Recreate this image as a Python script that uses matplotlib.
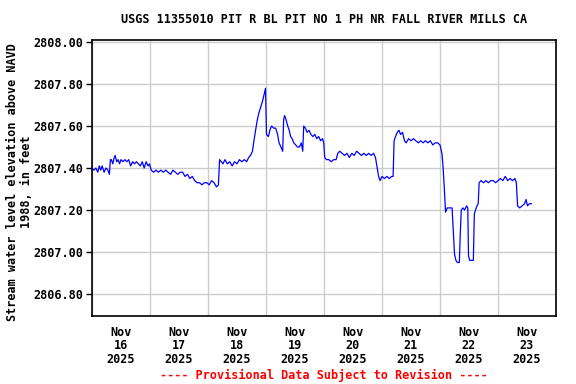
import matplotlib
matplotlib.use("Agg")
import matplotlib.pyplot as plt
import matplotlib.dates as mdates
import pandas as pd

# hours since 2025-11-16 00:00 and gage height (ft, NAVD 1988)
hours = [0, 0.8, 1.6, 2.4, 3.0, 3.6, 4.2, 5.0, 5.8, 6.6, 7.2,
         7.6, 8.0, 8.6, 9.2, 9.6, 10.2, 10.8, 11.4, 12.0, 12.8, 13.6, 14.4, 15.2, 16.0,
         16.8, 17.6, 18.4, 19.2, 20.0, 20.8, 21.6, 22.4, 23.2, 23.8,
         24.5, 25.5, 26.5, 27.5, 28.5, 29.5, 30.5, 31.5, 32.5, 33.5, 34.5, 35.5, 36.5,
         37.5, 38.5, 39.5, 40.5, 41.5, 42.5, 43.5, 44.5, 45.5, 46.5, 47.5, 48.5, 49.5,
         50.5, 51.5, 52.3,
         52.8, 53.5, 54.2, 55.0, 56.0, 57.0, 58.0, 59.0, 60.0, 61.0, 62.0, 63.0, 64.0,
         64.8, 65.6, 66.4, 67.0, 67.7, 68.4, 69.0, 69.8, 70.6, 71.2, 71.8,
         72.2, 73.0, 73.6, 74.3, 75.2, 76.0, 76.8, 77.4, 78.2, 78.9,
         79.3, 79.7, 80.3, 81.0, 81.6, 82.2, 82.8, 83.5, 84.3, 85.0, 85.8, 86.6, 87.2,
         87.6, 88.3, 89.0, 89.8, 90.6, 91.4, 92.2, 93.0, 93.8, 94.6, 95.4, 95.9,
         96.3, 97.0, 98.0, 99.0, 100.0, 101.0,
         101.7, 102.5, 103.5, 104.5, 105.5, 106.5, 107.5, 108.5, 109.5, 110.5, 111.5,
         112.5, 113.5, 114.5, 115.5, 116.5, 117.3,
         118.0, 118.6, 119.2, 120.0, 121.0, 122.0, 123.0, 124.0, 124.6,
         125.0, 125.6, 126.3, 127.0, 127.7, 128.5, 129.3, 130.0, 131.0, 132.0, 133.0,
         134.0, 135.0, 136.0, 137.0, 138.0, 139.0, 140.0, 141.0, 142.0, 143.0, 144.0,
         144.8, 145.3, 145.8, 146.3, 147.0, 148.0, 149.0,
         149.5, 150.0, 150.6, 151.2, 152.0,
         152.4, 152.8, 153.5, 154.2, 155.0, 155.5,
         155.8, 156.3, 157.0, 157.8,
         158.2, 158.7, 159.3, 159.8,
         160.2, 161.0, 162.0, 163.0, 164.0, 165.0, 166.0, 167.0, 168.0, 169.0, 170.0,
         171.0, 172.0, 173.0, 174.0, 175.0, 175.6,
         176.1, 177.0, 178.0, 179.0, 179.6, 180.2, 181.0, 181.8]
stage = [2807.40, 2807.39, 2807.40, 2807.38, 2807.41, 2807.39, 2807.41, 2807.38, 2807.40, 2807.39, 2807.37,
         2807.44, 2807.44, 2807.42, 2807.45, 2807.46, 2807.43, 2807.44, 2807.42, 2807.44, 2807.43, 2807.44, 2807.43, 2807.44, 2807.41,
         2807.43, 2807.42, 2807.43, 2807.42, 2807.41, 2807.43, 2807.40, 2807.43, 2807.41, 2807.42,
         2807.39, 2807.38, 2807.39, 2807.38, 2807.39, 2807.38, 2807.39, 2807.38, 2807.37, 2807.39, 2807.38, 2807.37, 2807.38,
         2807.38, 2807.36, 2807.37, 2807.35, 2807.36, 2807.34, 2807.33, 2807.33, 2807.32, 2807.33, 2807.33, 2807.32, 2807.34,
         2807.33, 2807.31, 2807.32,
         2807.44, 2807.43, 2807.42, 2807.44, 2807.42, 2807.43, 2807.41, 2807.43, 2807.42, 2807.44, 2807.43, 2807.44, 2807.43,
         2807.45, 2807.46, 2807.48, 2807.53, 2807.58, 2807.63, 2807.66, 2807.69, 2807.72, 2807.75, 2807.78,
         2807.56, 2807.55, 2807.58, 2807.60, 2807.59, 2807.59, 2807.56, 2807.52, 2807.50, 2807.48,
         2807.63, 2807.65, 2807.63, 2807.60, 2807.58, 2807.55, 2807.54, 2807.52, 2807.51, 2807.50, 2807.50, 2807.52, 2807.48,
         2807.60, 2807.59, 2807.57, 2807.58, 2807.56, 2807.55, 2807.56, 2807.54, 2807.55, 2807.53, 2807.54, 2807.52,
         2807.45, 2807.44, 2807.44, 2807.43, 2807.44, 2807.44,
         2807.47, 2807.48, 2807.47, 2807.46, 2807.47, 2807.45, 2807.47, 2807.46, 2807.48, 2807.47, 2807.46,
         2807.47, 2807.46, 2807.47, 2807.46, 2807.47, 2807.45,
         2807.40, 2807.36, 2807.34, 2807.36, 2807.35, 2807.36, 2807.35, 2807.36, 2807.36,
         2807.53, 2807.55, 2807.57, 2807.58, 2807.56, 2807.57, 2807.53, 2807.52, 2807.54, 2807.53, 2807.54,
         2807.53, 2807.52, 2807.53, 2807.52, 2807.53, 2807.52, 2807.53, 2807.51, 2807.52, 2807.52, 2807.51,
         2807.47, 2807.40, 2807.30, 2807.19, 2807.21, 2807.21, 2807.21,
         2807.10, 2806.99, 2806.96, 2806.95, 2806.95,
         2807.09, 2807.20, 2807.21, 2807.20, 2807.22, 2807.21,
         2806.98, 2806.96, 2806.96, 2806.96,
         2807.18, 2807.20, 2807.22, 2807.23,
         2807.33, 2807.34, 2807.33, 2807.34, 2807.33, 2807.34, 2807.34, 2807.33, 2807.34, 2807.35, 2807.34,
         2807.36, 2807.34, 2807.35, 2807.34, 2807.35, 2807.33,
         2807.22, 2807.21, 2807.22, 2807.23, 2807.25, 2807.22, 2807.23, 2807.23]

title = "USGS 11355010 PIT R BL PIT NO 1 PH NR FALL RIVER MILLS CA"
ylabel = "Stream water level elevation above NAVD\n1988, in feet"
footer = "---- Provisional Data Subject to Revision ----"

start = pd.Timestamp("2025-11-16")
times = start + pd.to_timedelta(hours, unit="h")

plt.rcParams["font.family"] = "DejaVu Sans Mono"
plt.rcParams["font.weight"] = "bold"

fig = plt.figure(figsize=(5.76, 3.84), dpi=100)
ax = fig.add_axes([92 / 576, 1 - 316 / 384, 464 / 576, 276 / 384])

ax.plot(times, stage, color="#0000ff", lw=0.9)

ax.set_xlim(start, start + pd.Timedelta(days=8))
ax.set_ylim(2806.695, 2808.01)

ax.xaxis.set_major_locator(mdates.DayLocator())
ax.xaxis.set_major_formatter(plt.NullFormatter())
ax.xaxis.set_minor_locator(mdates.HourLocator(byhour=[12]))
ax.xaxis.set_minor_formatter(mdates.DateFormatter("%b\n%d\n%Y"))
ax.tick_params(axis="x", which="both", length=0, pad=7, labelsize=8.5)
ax.tick_params(axis="y", length=4, width=1, labelsize=8.5, pad=2)
for lbl in ax.get_xticklabels(minor=True):
    lbl.set_linespacing(1.05)

ax.set_yticks([2806.8, 2807.0, 2807.2, 2807.4, 2807.6, 2807.8, 2808.0])
ax.yaxis.set_major_formatter(plt.FormatStrFormatter("%.2f"))

ax.grid(True, which="major", color="#cccccc", lw=1)
ax.set_axisbelow(True)
for s in ax.spines.values():
    s.set_linewidth(1.2)

ax.set_title(title, fontsize=8.5, fontweight="bold", pad=12)
ax.set_ylabel(ylabel, fontsize=8.5, fontweight="bold", labelpad=0.5, linespacing=1.1)
ax.yaxis.label.set_y(0.487)
fig.text(324 / 576, 1 - 375 / 384, footer, color="red", fontsize=8.5,
         fontweight="bold", ha="center", va="center")

fig.savefig("out.png", dpi=100)
